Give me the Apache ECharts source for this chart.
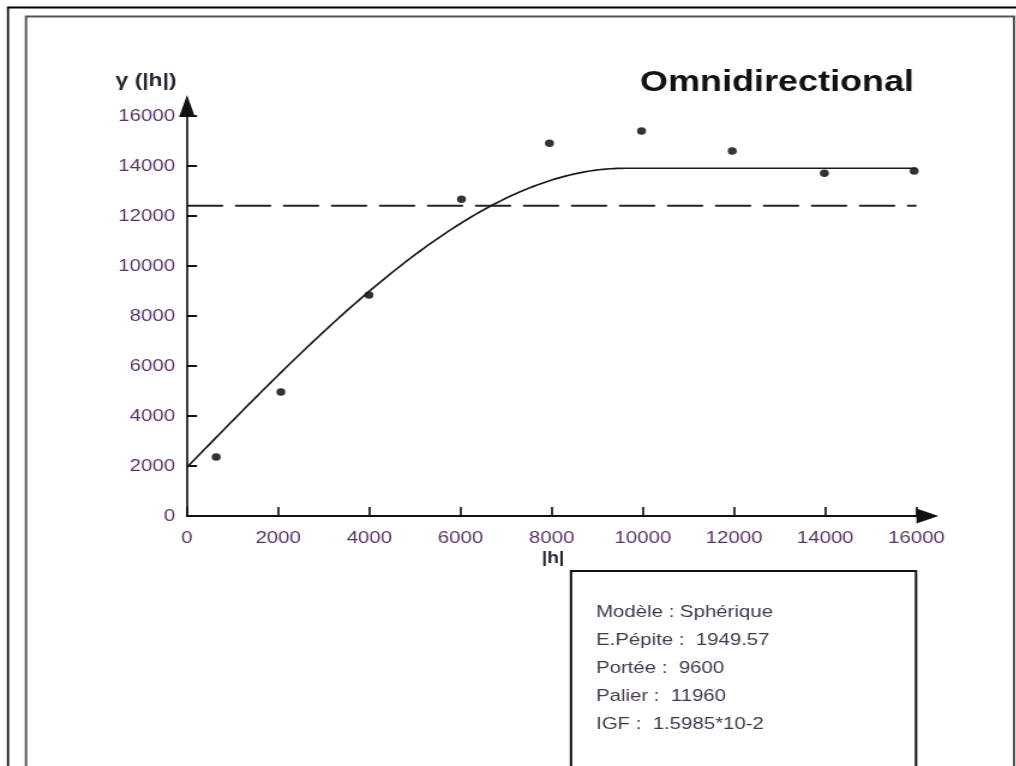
<!DOCTYPE html>
<html>
<head>
<meta charset="utf-8">
<title>Variogramme omnidirectionnel</title>
<script src="https://cdn.jsdelivr.net/npm/echarts@6/dist/echarts.min.js"></script>
<style>
  html, body { margin: 0; padding: 0; background: #fff; overflow: hidden; }
  #stage { position: absolute; left: 0; top: 0; width: 1016px; height: 766px; overflow: hidden; background: #fff; }
  /* the sheet is laid out narrower and stretched horizontally */
  #chart { position: absolute; left: 0; top: 0; width: 846.667px; height: 766px;
           transform: scaleX(1.2); transform-origin: 0 0; }
</style>
</head>
<body>
<div id="stage"><div id="chart"></div></div>
<script>
// Experimental variogram: lag distance |h| and semivariance γ(|h|)
const lags   = [640, 2060, 3990, 6020, 7950, 9970, 11960, 13980, 15950];
const gammas = [2360, 4960, 8840, 12670, 14910, 15400, 14600, 13710, 13800];

// Fitted spherical model
const modelName = 'Sphérique';
const nugget    = 1949.57;   // E.Pépite
const range     = 9600;      // Portée
const sill      = 11960;     // Palier (partial sill, above the nugget)
const igf       = '1.5985*10-2';

// Sample variance (dashed reference line)
const variance = 12410;

// Axis extent and step
const axisMax  = 16000;
const axisStep = 2000;

const SX = 1.2;                       // horizontal stretch of the sheet
const X = px => px / SX;              // sheet pixel -> layout pixel
const FONT = '"Liberation Sans", Arial, Helvetica, sans-serif';
const LABEL_COLOR = '#5a3468';
const INK = '#111';

function spherical(h) {
  if (h >= range) return nugget + sill;
  const r = h / range;
  return nugget + sill * (1.5 * r - 0.5 * r * r * r);
}
const modelCurve = [];
for (let h = 0; h <= axisMax; h += 80) modelCurve.push([h, spherical(h)]);

const points = lags.map((h, i) => [h, gammas[i]]);

const infoText = [
  'Modèle : ' + modelName,
  'E.Pépite :  ' + nugget.toFixed(2),
  'Portée :  ' + range,
  'Palier :  ' + sill,
  'IGF :  ' + igf
].join('\n');

const chart = echarts.init(document.getElementById('chart'), null, { renderer: 'canvas' });

const W = 1016 / SX;

chart.setOption({
  animation: false,
  backgroundColor: 'transparent',
  title: {
    text: 'Omnidirectional',
    left: X(640),
    top: 68,
    padding: 0,
    textStyle: { fontFamily: FONT, fontSize: 30, fontWeight: 'bold', color: '#111' }
  },
  grid: { left: X(187), right: W - X(916), top: 116, bottom: 250, containLabel: false },
  xAxis: {
    type: 'value', min: 0, max: axisMax, interval: axisStep,
    axisLine: {
      show: true, onZero: false,
      lineStyle: { color: INK, width: 2 },
      symbol: ['none', 'triangle'], symbolSize: [15, X(22)], symbolOffset: [0, X(11)]
    },
    axisTick: { show: true, inside: true, length: 9, lineStyle: { color: INK, width: 2 / SX } },
    axisLabel: { color: LABEL_COLOR, fontFamily: FONT, fontSize: 17, margin: 14,
                 formatter: v => String(v) },
    splitLine: { show: false }
  },
  yAxis: {
    type: 'value', min: 0, max: axisMax, interval: axisStep,
    axisLine: {
      show: true, onZero: false,
      lineStyle: { color: INK, width: 2 / SX },
      symbol: ['none', 'triangle'], symbolSize: [X(16), 22], symbolOffset: [0, 10]
    },
    axisTick: { show: true, inside: true, length: X(10), lineStyle: { color: INK, width: 2 } },
    axisLabel: { color: LABEL_COLOR, fontFamily: FONT, fontSize: 17, margin: X(12),
                 formatter: v => String(v) },
    splitLine: { show: false }
  },
  series: [
    {
      name: 'Variance', type: 'line', data: [[0, variance], [axisMax, variance]],
      showSymbol: false, silent: true,
      lineStyle: { color: '#222', width: 2, type: [X(36), X(12)] }
    },
    {
      name: 'Modèle', type: 'line', data: modelCurve,
      showSymbol: false, smooth: false, silent: true,
      lineStyle: { color: '#1a1a1a', width: 1.7 }
    },
    {
      name: 'γ expérimental', type: 'scatter', data: points,
      symbol: 'circle', symbolSize: 7.5,
      itemStyle: { color: '#000' }
    }
  ],
  graphic: [
    // sheet borders
    { type: 'rect', silent: true, z: -10, shape: { x: X(7), y: 6.5, width: W, height: 2 }, style: { fill: '#000' } },
    { type: 'rect', silent: true, z: -10, shape: { x: X(7), y: 7, width: X(2), height: 800 }, style: { fill: '#000' } },
    { type: 'rect', silent: true, z: -10, shape: { x: X(26), y: 16.5, width: X(1014 - 26), height: 800 },
      style: { fill: 'none', stroke: '#555', lineWidth: 2 } },
    // axis titles
    { type: 'text', silent: true, style: { text: 'γ (|h|)', x: X(146), y: 81, align: 'center', verticalAlign: 'middle',
      font: 'bold 19px ' + FONT, fill: '#2a2030' } },
    { type: 'text', silent: true, style: { text: '|h|', x: X(553), y: 559, align: 'center', verticalAlign: 'middle',
      font: 'bold 16px ' + FONT, fill: '#2a2030' } },
    // model parameters box
    { type: 'rect', silent: true, z: 5, shape: { x: X(571), y: 571, width: X(916 - 571), height: 300 },
      style: { fill: '#fff', stroke: INK, lineWidth: 2 } },
    { type: 'text', silent: true, z: 6, style: { text: infoText, x: X(596), y: 598, font: '17px ' + FONT,
      lineHeight: 28, fill: '#43384c' } }
  ]
});
</script>
</body>
</html>
